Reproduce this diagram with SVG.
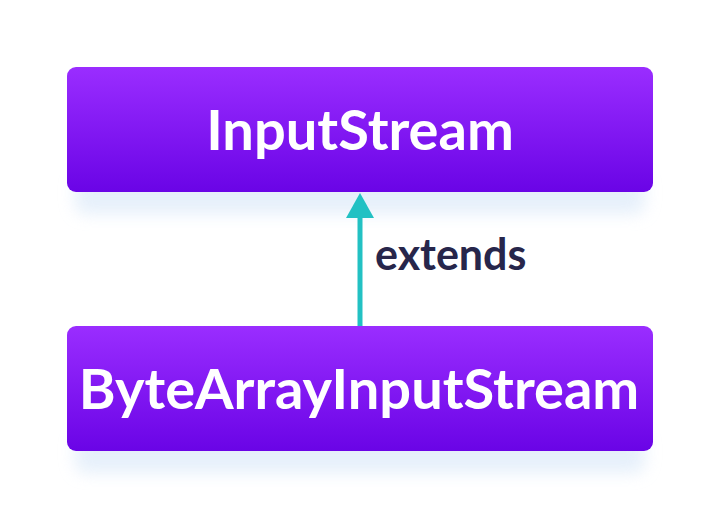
<svg xmlns="http://www.w3.org/2000/svg" width="720" height="518" viewBox="0 0 720 518">
<defs>
<linearGradient id="g" x1="0" y1="0" x2="0" y2="1">
<stop offset="0" stop-color="#9a2dff"/>
<stop offset="1" stop-color="#6a04e6"/>
</linearGradient>
<filter id="sh" x="-10%" y="-20%" width="120%" height="160%">
<feGaussianBlur stdDeviation="8"/>
</filter>
<style>
.box{fill:url(#g);}
.shadow{fill:#d6e6f8;opacity:0.6;}
.lbl{font-family:Lato,"Noto Sans",sans-serif;font-weight:bold;fill:#ffffff;text-anchor:middle;}
.ext{font-family:Lato,"Noto Sans",sans-serif;font-weight:bold;fill:#27264b;font-size:43px;}
</style>
</defs>
<rect width="720" height="518" fill="#ffffff"/>
<g id="node-inputstream">
<rect class="shadow" x="75" y="172" width="570" height="42" rx="10" filter="url(#sh)"/>
<rect class="box" x="67" y="67" width="586" height="125" rx="9"/>
<text class="lbl" x="360" y="150" font-size="56">InputStream</text>
</g>
<g id="node-bytearrayinputstream">
<rect class="shadow" x="75" y="431" width="570" height="42" rx="10" filter="url(#sh)"/>
<rect class="box" x="67" y="326" width="586" height="125" rx="9"/>
<text class="lbl" x="359" y="409" font-size="56">ByteArrayInputStream</text>
</g>
<g id="connectors">
<line x1="360" y1="326" x2="360" y2="215" stroke="#22c1c3" stroke-width="5"/>
<path d="M346,218 L360,193 L374,218 Z" fill="#22c1c3"/>
<text class="ext" x="375" y="270">extends</text>
</g>
</svg>
